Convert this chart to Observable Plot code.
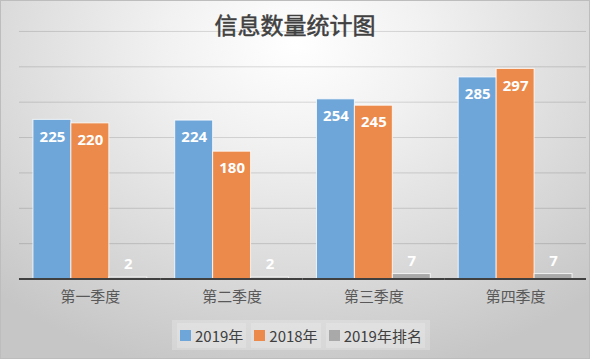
<!DOCTYPE html>
<html>
<head>
<meta charset="utf-8">
<script src="https://cdn.jsdelivr.net/npm/d3@7"></script>
<script src="https://cdn.jsdelivr.net/npm/@observablehq/plot@0.6"></script>
<style>
  html, body { margin: 0; padding: 0; }
  #chart {
    position: relative; width: 590px; height: 359px; box-sizing: border-box;
    border: 1px solid #bdbdbd;
    background: radial-gradient(ellipse 75% 95% at 50% 12%, #ffffff 0%, #f1f1f1 30%, #dcdcdc 65%, #c6c6c6 100%);
    font-family: "Noto Sans CJK SC", "Noto Sans", sans-serif;
    overflow: hidden;
  }
  #title {
    position: absolute; left: 0; right: 0; top: 6px; text-align: center;
    font-size: 23px; color: #404040; line-height: 34px; font-weight: normal;
    -webkit-text-stroke: 0.5px #404040;
  }
  #plot { position: absolute; left: -1px; top: -1px; }
  #legend {
    position: absolute; left: 171px; top: 319px; height: 30px; padding: 0 5px;
    background: rgba(255,255,255,0.22); white-space: nowrap;
    display: flex; align-items: center; gap: 5px;
    font-size: 15px; color: #404040;
  }
  .item { display: flex; align-items: center; gap: 4px; padding: 2px 3px; background: rgba(255,255,255,0.18); flex-shrink: 0; white-space: nowrap; }
  .sw { width: 11px; height: 11px; flex-shrink: 0; }
</style>
</head>
<body>
<div id="chart">
  <div id="plot"></div>
  <div id="title">信息数量统计图</div>
  <div id="legend"></div>
</div>
<script>
const quarters = ["第一季度", "第二季度", "第三季度", "第四季度"];
const seriesNames = ["2019年", "2018年", "2019年排名"];
const values2019 = [225, 224, 254, 285];
const values2018 = [220, 180, 245, 297];
const rank2019 = [2, 2, 7, 7];
const yTicks = [50, 100, 150, 200, 250, 300, 350];
const colors = ["#6ea6d9", "#eb8a4b", "#a9a9a9"];

const seriesValues = [values2019, values2018, rank2019];
const data = [];
quarters.forEach((q, i) => {
  seriesNames.forEach((s, j) => data.push({quarter: q, series: s, value: seriesValues[j][i]}));
});

const chart = Plot.plot({
  width: 590, height: 316,
  marginTop: 31, marginBottom: 37, marginLeft: 19, marginRight: 3,
  style: {background: "transparent", fontFamily: "'Noto Sans CJK SC', 'Noto Sans', sans-serif", overflow: "visible"},
  fx: {domain: quarters, padding: 0, label: null},
  x: {domain: seriesNames, paddingInner: 0, paddingOuter: 0.34, axis: null},
  y: {domain: [0, 350], axis: null},
  color: {domain: seriesNames, range: colors},
  marks: [
    Plot.ruleY(yTicks, {stroke: "#000", strokeOpacity: 0.14}),
    Plot.barY(data, {fx: "quarter", x: "series", y: "value", fill: "series", stroke: "white", strokeWidth: 1, strokeOpacity: 0.8}),
    Plot.ruleY([0], {stroke: "#404040", strokeWidth: 2}),
    Plot.text(data.filter(d => d.value >= 50), {fx: "quarter", x: "series", y: "value", text: d => String(d.value),
      dy: 17, fill: "white", fontWeight: "bold", fontSize: 15, fontFamily: "'Noto Sans', sans-serif"}),
    Plot.text(data.filter(d => d.value < 50), {fx: "quarter", x: "series", y: "value", text: d => String(d.value),
      dy: -13, fill: "white", fontWeight: "bold", fontSize: 15, fontFamily: "'Noto Sans', sans-serif"}),
    Plot.axisFx({anchor: "bottom", tickSize: 0, tickPadding: 12, fontSize: 15, fill: "#595959", label: null})
  ]
});
document.getElementById("plot").appendChild(chart);

const legend = document.getElementById("legend");
seriesNames.forEach((s, i) => {
  const item = document.createElement("div");
  item.className = "item";
  const sw = document.createElement("div");
  sw.className = "sw"; sw.style.background = colors[i];
  const t = document.createElement("span");
  t.textContent = s;
  item.appendChild(sw); item.appendChild(t);
  legend.appendChild(item);
});
</script>
</body>
</html>
